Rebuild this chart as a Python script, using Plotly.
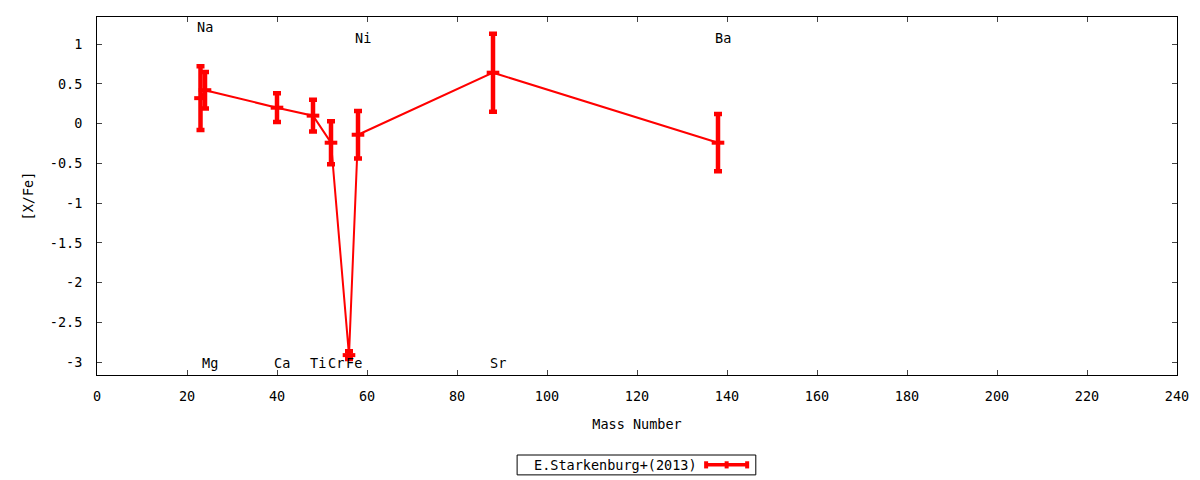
import plotly.graph_objects as go

# abundance pattern, E.Starkenburg+(2013)
elements = ["Na", "Mg", "Ca", "Ti", "Cr", "Fe", "Ni", "Sr", "Ba"]
mass_number = [23, 24, 40, 48, 52, 56, 58, 88, 138]
x_fe = [0.32, 0.42, 0.20, 0.10, -0.24, -2.91, -0.14, 0.64, -0.24]
x_fe_err = [0.40, 0.23, 0.18, 0.20, 0.27, 0.05, 0.30, 0.49, 0.36]

# where each element name sits (top or bottom of the frame)
label_y = [1.21, -3.01, -3.01, -3.01, -3.01, -3.01, 1.08, -3.01, 1.08]

y_ticks = [-3, -2.5, -2, -1.5, -1, -0.5, 0, 0.5, 1]
y_ticktext = ["-3", "-2.5", "-2", "-1.5", "-1", "-0.5", "0", "0.5", "1"]
x_ticks = list(range(0, 241, 20))

FONT = "DejaVu Sans Mono"
FS = 13.5
RED = "#ff0000"

fig = go.Figure()

fig.add_trace(go.Scatter(
    x=mass_number,
    y=x_fe,
    mode="lines+markers",
    line=dict(color=RED, width=2),
    marker=dict(symbol="line-ew", size=9, line=dict(color=RED, width=4)),
    error_y=dict(type="data", array=x_fe_err, visible=True,
                 color=RED, thickness=4.5, width=4),
    showlegend=False,
    hoverinfo="x+y",
))

# element names, centred one unit to the right of the mass number
for el, a, ly in zip(elements, mass_number, label_y):
    fig.add_annotation(x=a + 1, y=ly, text=el, showarrow=False,
                       xanchor="center", yanchor="middle",
                       font=dict(family=FONT, size=FS, color="black"))

# gnuplot style key below the plot: text first, sample on the right
fig.add_shape(type="rect", xref="paper", yref="paper",
              x0=0.389, x1=0.610, y0=-0.279, y1=-0.2235,
              line=dict(color="black", width=1))
fig.add_annotation(xref="paper", yref="paper", x=0.557, y=-0.251,
                   text="E.Starkenburg+(2013)", showarrow=False,
                   xanchor="right", yanchor="middle",
                   font=dict(family=FONT, size=FS, color="black"))
fig.add_shape(type="line", xref="paper", yref="paper",
              x0=0.564, x1=0.602, y0=-0.251, y1=-0.251,
              line=dict(color=RED, width=3.5))
for cx in [0.564, 0.583, 0.602]:
    fig.add_shape(type="line", xref="paper", yref="paper",
                  x0=cx, x1=cx, y0=-0.241, y1=-0.261,
                  line=dict(color=RED, width=4))

# page body adds an 8px margin, so the figure is 8px smaller than the window
fig.update_layout(
    width=1192, height=472,
    margin=dict(l=89, r=23, t=9, b=105, autoexpand=False),
    plot_bgcolor="white", paper_bgcolor="white",
    font=dict(family=FONT, size=FS, color="black"),
    showlegend=False,
)
fig.update_xaxes(
    range=[0, 240], tickvals=x_ticks, ticks="inside", ticklen=5,
    ticklabelstandoff=9, tickfont=dict(family=FONT, size=FS),
    showline=True, linecolor="black", linewidth=1, mirror="ticks",
    showgrid=False, zeroline=False, automargin=False,
    title=dict(text="Mass Number", standoff=16,
               font=dict(family=FONT, size=FS)),
)
fig.update_yaxes(
    range=[-3.16, 1.34], tickvals=y_ticks, ticktext=y_ticktext,
    ticks="inside", ticklen=5,
    ticklabelstandoff=11, tickfont=dict(family=FONT, size=FS),
    showline=True, linecolor="black", linewidth=1, mirror="ticks",
    showgrid=False, zeroline=False, automargin=False,
    title=dict(text="[X/Fe]", standoff=13,
               font=dict(family=FONT, size=FS)),
)

fig.write_html("out.html")
